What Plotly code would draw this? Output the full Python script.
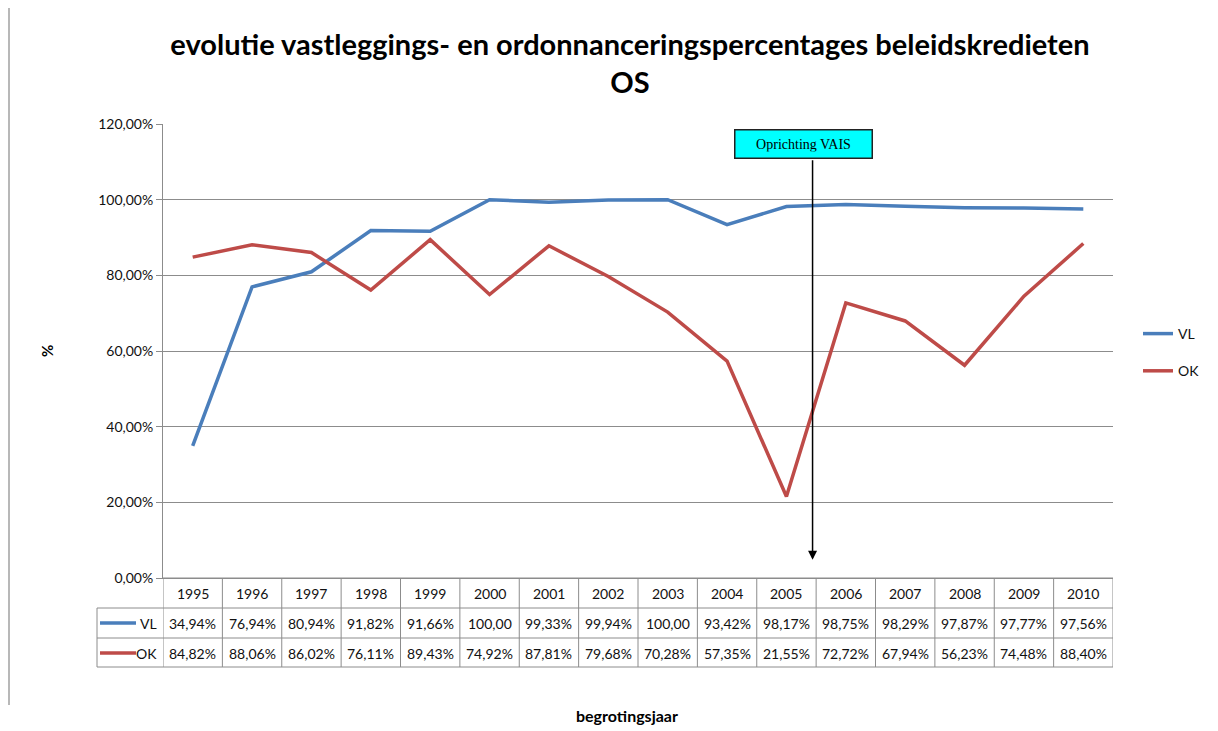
import plotly.graph_objects as go

years = ["1995", "1996", "1997", "1998", "1999", "2000", "2001", "2002",
         "2003", "2004", "2005", "2006", "2007", "2008", "2009", "2010"]
vl = [0.3494, 0.7694, 0.8094, 0.9182, 0.9166, 1.0000, 0.9933, 0.9994,
      1.0000, 0.9342, 0.9817, 0.9875, 0.9829, 0.9787, 0.9777, 0.9756]
ok = [0.8482, 0.8806, 0.8602, 0.7611, 0.8943, 0.7492, 0.8781, 0.7968,
      0.7028, 0.5735, 0.2155, 0.7272, 0.6794, 0.5623, 0.7448, 0.8840]
vl_labels = ["34,94%", "76,94%", "80,94%", "91,82%", "91,66%", "100,00", "99,33%", "99,94%",
             "100,00", "93,42%", "98,17%", "98,75%", "98,29%", "97,87%", "97,77%", "97,56%"]
ok_labels = ["84,82%", "88,06%", "86,02%", "76,11%", "89,43%", "74,92%", "87,81%", "79,68%",
             "70,28%", "57,35%", "21,55%", "72,72%", "67,94%", "56,23%", "74,48%", "88,40%"]
series_names = ["VL", "OK"]
colors = ["#4A7EBB", "#BE4B48"]
y_ticks = [0, 0.2, 0.4, 0.6, 0.8, 1.0, 1.2]
event_label = "Oprichting VAIS"
event_pos = 10.44   # category position between 2005 and 2006

FONT = "Lato, 'Open Sans', sans-serif"
OFF = 8                      # page body margin
PAGE_W, PAGE_H = 1218, 731
W, H = PAGE_W - OFF, PAGE_H - OFF
# plot area in page pixels
L, R, T, B = 163, 1113, 124, 578
pw, ph = R - L, B - T


def px_x(px):
    return (px - L) / pw


def px_y(py):
    return (B - py) / ph


fig = go.Figure()
for name, vals, col in zip(series_names, [vl, ok], colors):
    fig.add_trace(go.Scatter(x=years, y=vals, mode="lines", name=name,
                             legendgroup=name,
                             line=dict(color=col, width=3.5)))

shapes = []
annotations = []
grid_col = "#8C8C8C"
TXT = "#111111"
row_lines_py = [B, 608, 638, 667]
row_centers_py = [593, 623, 653]
TF = dict(size=14, color=TXT)

# table vertical lines along category boundaries
for i in range(len(years) + 1):
    shapes.append(dict(type="line", xref="x", yref="paper", x0=i - 0.5, x1=i - 0.5,
                       y0=0, y1=px_y(667), line=dict(color=grid_col, width=1)))
# left column vertical line
shapes.append(dict(type="line", xref="paper", yref="paper", x0=px_x(97), x1=px_x(97),
                   y0=px_y(608), y1=px_y(667), line=dict(color=grid_col, width=1)))
# table horizontal lines
for k, py in enumerate(row_lines_py):
    x0 = px_x(163) if k == 0 else px_x(97)
    shapes.append(dict(type="line", xref="paper", yref="paper", x0=x0, x1=1,
                       y0=px_y(py), y1=px_y(py), line=dict(color=grid_col, width=1)))

# year header row
for i, yr in enumerate(years):
    annotations.append(dict(x=i, y=px_y(row_centers_py[0]), xref="x", yref="paper",
                            text=yr, showarrow=False, xanchor="center", yanchor="middle",
                            font=TF))
# data rows
for r, labels in enumerate([vl_labels, ok_labels]):
    for i, lab in enumerate(labels):
        annotations.append(dict(x=i, y=px_y(row_centers_py[r + 1]), xref="x", yref="paper",
                                text=lab, showarrow=False, xanchor="center", yanchor="middle",
                                font=TF))
    # legend key in table
    shapes.append(dict(type="line", xref="paper", yref="paper", x0=px_x(100), x1=px_x(136),
                       y0=px_y(row_centers_py[r + 1]), y1=px_y(row_centers_py[r + 1]),
                       line=dict(color=colors[r], width=3.5)))
    annotations.append(dict(x=px_x(159), y=px_y(row_centers_py[r + 1]), xref="paper", yref="paper",
                            text=series_names[r], showarrow=False, xanchor="right",
                            yanchor="middle", font=TF))

# event arrow and label
annotations.append(dict(x=event_pos, y=0.048, ax=event_pos, ay=1.108, xref="x", yref="y",
                        axref="x", ayref="y", text="", showarrow=True, arrowhead=2,
                        arrowsize=1.2, arrowwidth=1.5, arrowcolor="black"))
annotations.append(dict(x=event_pos - 0.16, y=1.147, xref="x", yref="y", text=event_label,
                        showarrow=False, bgcolor="#00FFFF", bordercolor="#222", borderwidth=1.5,
                        borderpad=6, width=124, xanchor="center", yanchor="middle",
                        font=dict(family="'Liberation Serif', 'Times New Roman', serif",
                                  size=14, color="black")))

# axis titles
annotations.append(dict(x=px_x(47), y=px_y(351), xref="paper", yref="paper", text="<b>%</b>",
                        textangle=-90, showarrow=False, xanchor="center", yanchor="middle",
                        font=dict(size=15, color="black")))
annotations.append(dict(x=px_x(627), y=px_y(715), xref="paper", yref="paper",
                        text="<b>begrotingsjaar</b>", showarrow=False, xanchor="center",
                        yanchor="middle", font=dict(size=16, color="black")))

# left page border
shapes.append(dict(type="line", xref="paper", yref="paper", x0=px_x(9), x1=px_x(9),
                   y0=px_y(0), y1=px_y(705), line=dict(color="#A0A0A0", width=1.5)))

fig.update_layout(
    width=W, height=H,
    margin=dict(l=L - OFF, r=PAGE_W - R, t=T - OFF, b=PAGE_H - B, autoexpand=False),
    paper_bgcolor="white", plot_bgcolor="white",
    separators=",.",
    font=dict(family=FONT, size=14, color=TXT),
    title=dict(text="<b>evolutie vastleggings- en ordonnanceringspercentages beleidskredieten<br>OS</b>",
               x=(630 - OFF) / W, xanchor="center", y=1 - 47 / H, yanchor="top", yref="container",
               font=dict(size=29, color="black", family=FONT)),
    xaxis=dict(type="category", categoryorder="array", categoryarray=years,
               range=[-0.5, len(years) - 0.5], showticklabels=False, showgrid=False,
               showline=True, linecolor=grid_col, ticks="", zeroline=False, fixedrange=True),
    yaxis=dict(range=[0, 1.2], tickvals=y_ticks, tickformat=".2%", showgrid=True,
               gridcolor=grid_col, gridwidth=1, showline=True, linecolor=grid_col,
               ticks="outside", ticklen=6, tickcolor=grid_col, zeroline=False,
               tickfont=dict(size=14, color=TXT)),
    legend=dict(x=px_x(1138), y=px_y(318), xanchor="left", yanchor="top",
                font=dict(size=14, color=TXT), tracegroupgap=16,
                bgcolor="rgba(0,0,0,0)"),
    shapes=shapes, annotations=annotations,
)

fig.write_html("out.html")
